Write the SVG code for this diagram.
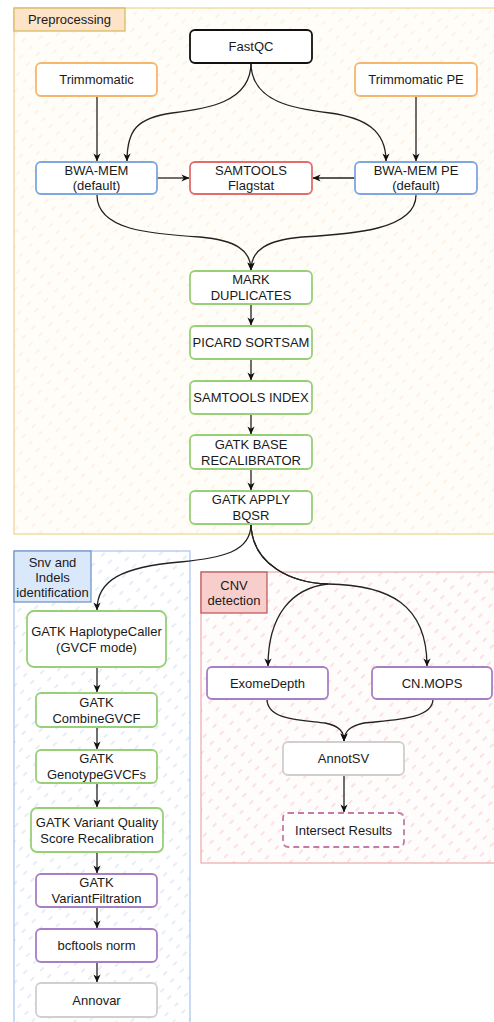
<svg xmlns="http://www.w3.org/2000/svg" width="494" height="1022" viewBox="0 0 494 1022">
<defs>
<pattern id="hOr" width="14" height="10" patternUnits="userSpaceOnUse" patternTransform="rotate(-45)"><line x1="0" y1="5" x2="5" y2="5" stroke="#f3c99a" stroke-width="1" stroke-opacity="0.4"/></pattern>
<pattern id="hBl" width="14" height="10" patternUnits="userSpaceOnUse" patternTransform="rotate(-45)"><line x1="0" y1="5" x2="5" y2="5" stroke="#8fb1e3" stroke-width="1" stroke-opacity="0.45"/></pattern>
<pattern id="hRd" width="14" height="10" patternUnits="userSpaceOnUse" patternTransform="rotate(-45)"><line x1="0" y1="5" x2="5" y2="5" stroke="#ef8f9a" stroke-width="1" stroke-opacity="0.5"/></pattern>
<marker id="arr" viewBox="0 0 10 10" refX="9.5" refY="5" markerWidth="8" markerHeight="8" markerUnits="userSpaceOnUse" orient="auto"><path d="M0,0.5 L10,5 L0,9.5 L3,5 z" fill="#111"/></marker>
<style>
text{font-family:"Liberation Sans",Arial,sans-serif;font-size:13px;fill:#1a1a1a;text-anchor:middle}
.n{fill:#fff;stroke-width:1.8}
.or{stroke:#f7b66e}.bl{stroke:#7ea6e0}.rd{stroke:#e46b6b}.gr{stroke:#97d077}.pu{stroke:#a77fc6}.gy{stroke:#cfcfcf}
.e{fill:none;stroke:#222;stroke-width:1.3;marker-end:url(#arr)}
</style>
</defs>
<g id="containers">
<g id="preprocessing">
<rect x="14" y="8" width="490" height="526" fill="#fffdf8" stroke="#efd48c" stroke-width="1.2"/>
<rect x="14" y="8" width="490" height="526" fill="url(#hOr)"/>
<rect x="14" y="8" width="111" height="23" fill="#fde3c8" stroke="#d6b656" stroke-width="1.2"/>
<text x="69.5" y="24">Preprocessing</text>
</g>
<g id="snv">
<rect x="14" y="551" width="176" height="480" fill="#fff" stroke="#a9c4eb" stroke-width="1.2"/>
<rect x="14" y="551" width="176" height="480" fill="url(#hBl)"/>
<rect x="14" y="551" width="77" height="51" fill="#dae8fc" stroke="#6c8ebf" stroke-width="1.2"/>
<text x="52.5" y="566.5">Snv and</text>
<text x="52.5" y="581.5">Indels</text>
<text x="52.5" y="596.5">identification</text>
</g>
<g id="cnv">
<rect x="201" y="572" width="300" height="291" fill="#fffcfc" stroke="#eaa9ab" stroke-width="1.2"/>
<rect x="201" y="572" width="300" height="291" fill="url(#hRd)"/>
<rect x="201" y="572" width="66" height="41" fill="#f8cecc" stroke="#b85450" stroke-width="1.2"/>
<text x="234" y="589.5">CNV</text>
<text x="234" y="604.5">detection</text>
</g>
</g>
<g id="connectors">
<path class="e" d="M97,96 L97,161"/>
<path class="e" d="M416,96 L416,161"/>
<path class="e" d="M251,63 C251,103 205,109 172,113 C137,118 127,130 127,161"/>
<path class="e" d="M251,63 C251,103 297,109 330,113 C365,118 386,130 386,161"/>
<path class="e" d="M157,178 L189,178"/>
<path class="e" d="M355,178 L313,178"/>
<path class="e" d="M97,195 C97,230 150,234 200,237 C235,240 251,250 251,270"/>
<path class="e" d="M416,195 C416,230 352,234 302,237 C267,240 251,250 251,270"/>
<path class="e" d="M251,304 L251,325"/>
<path class="e" d="M251,359 L251,380"/>
<path class="e" d="M251,414 L251,434"/>
<path class="e" d="M251,469 L251,490"/>
<path class="e" d="M251,524 C251,552 222,558 180,562 C122,567 97,580 97,610"/>
<path class="e" d="M251,524 C252,565 292,583 328,584 C292,588 268,615 268,666"/>
<path class="e" d="M251,524 C252,565 292,583 328,584 C390,585 427,605 427,666"/>
<path class="e" d="M97,667 L97,692"/>
<path class="e" d="M97,727 L97,749"/>
<path class="e" d="M97,783 L97,807"/>
<path class="e" d="M97,852 L97,873"/>
<path class="e" d="M97,907 L97,928"/>
<path class="e" d="M97,962 L97,982"/>
<path class="e" d="M267,699 C267,720 300,720 325,723 C340,726 344,732 344,741"/>
<path class="e" d="M433,699 C433,720 390,720 364,723 C349,726 344,732 344,741"/>
<path class="e" d="M344,775 L344,812"/>
</g>
<g id="fastqc"><rect class="n" x="190" y="30" width="122" height="33" rx="5" stroke="#111" stroke-width="2.2"/><text x="251" y="51">FastQC</text></g>
<g id="trimmomatic"><rect class="n or" x="36" y="63" width="121" height="33" rx="5"/><text x="96.5" y="84">Trimmomatic</text></g>
<g id="trimmomatic-pe"><rect class="n or" x="355" y="63" width="122" height="33" rx="5"/><text x="416" y="84">Trimmomatic PE</text></g>
<g id="bwa-mem"><rect class="n bl" x="36" y="162" width="121" height="32" rx="5"/><text x="96.5" y="174.5">BWA-MEM</text><text x="96.5" y="190">(default)</text></g>
<g id="samtools-flagstat"><rect class="n rd" x="190" y="162" width="122" height="32" rx="5"/><text x="251" y="174.5">SAMTOOLS</text><text x="251" y="190">Flagstat</text></g>
<g id="bwa-mem-pe"><rect class="n bl" x="355" y="162" width="122" height="32" rx="5"/><text x="416" y="174.5">BWA-MEM PE</text><text x="416" y="190">(default)</text></g>
<g id="mark-duplicates"><rect class="n gr" x="190" y="271" width="122" height="33" rx="5"/><text x="251" y="284">MARK</text><text x="251" y="300">DUPLICATES</text></g>
<g id="picard-sortsam"><rect class="n gr" x="190" y="326" width="122" height="33" rx="5"/><text x="251" y="347">PICARD SORTSAM</text></g>
<g id="samtools-index"><rect class="n gr" x="190" y="381" width="122" height="33" rx="5"/><text x="251" y="402">SAMTOOLS INDEX</text></g>
<g id="gatk-base-recalibrator"><rect class="n gr" x="190" y="435" width="122" height="34" rx="5"/><text x="251" y="448.5">GATK BASE</text><text x="251" y="464.5">RECALIBRATOR</text></g>
<g id="gatk-apply-bqsr"><rect class="n gr" x="190" y="491" width="122" height="33" rx="5"/><text x="251" y="504">GATK APPLY</text><text x="251" y="520">BQSR</text></g>
<g id="haplotypecaller"><rect class="n gr" x="27" y="611" width="139" height="56" rx="7"/><text x="96.5" y="636">GATK HaplotypeCaller</text><text x="96.5" y="652">(GVCF mode)</text></g>
<g id="combinegvcf"><rect class="n gr" x="36" y="693" width="121" height="34" rx="5"/><text x="96.5" y="706.5">GATK</text><text x="96.5" y="722.5">CombineGVCF</text></g>
<g id="genotypegvcfs"><rect class="n gr" x="36" y="750" width="121" height="33" rx="5"/><text x="96.5" y="763">GATK</text><text x="96.5" y="779">GenotypeGVCFs</text></g>
<g id="vqsr"><rect class="n gr" x="31" y="808" width="132" height="44" rx="6"/><text x="97" y="827">GATK Variant Quality</text><text x="97" y="843">Score Recalibration</text></g>
<g id="variantfiltration"><rect class="n pu" x="36" y="874" width="121" height="33" rx="5"/><text x="96.5" y="887">GATK</text><text x="96.5" y="903">VariantFiltration</text></g>
<g id="bcftools-norm"><rect class="n pu" x="36" y="929" width="121" height="33" rx="5"/><text x="96.5" y="950">bcftools norm</text></g>
<g id="annovar"><rect class="n gy" x="36" y="983" width="121" height="34" rx="5"/><text x="96.5" y="1004.5">Annovar</text></g>
<g id="exomedepth"><rect class="n pu" x="207" y="667" width="121" height="32" rx="5"/><text x="267.5" y="687.5">ExomeDepth</text></g>
<g id="cn-mops"><rect class="n pu" x="372" y="667" width="120" height="32" rx="5"/><text x="432" y="687.5">CN.MOPS</text></g>
<g id="annotsv"><rect class="n gy" x="283" y="742" width="121" height="33" rx="5"/><text x="343.5" y="763">AnnotSV</text></g>
<g id="intersect-results"><rect class="n" x="283" y="813" width="121" height="34" rx="5" stroke="#c47ba6" stroke-dasharray="6 4"/><text x="343.5" y="834.5">Intersect Results</text></g>
</svg>
